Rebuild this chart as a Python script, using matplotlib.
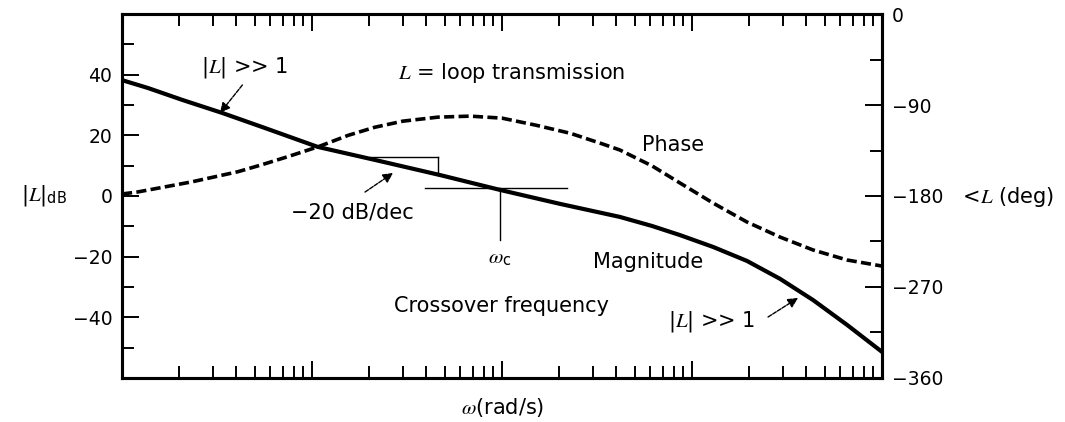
import numpy as np
import matplotlib.pyplot as plt
from matplotlib.ticker import LogLocator, MultipleLocator, NullFormatter

plt.rcParams["font.family"] = "DejaVu Sans"
plt.rcParams["mathtext.fontset"] = "custom"
plt.rcParams["mathtext.rm"] = "DejaVu Sans"
plt.rcParams["mathtext.sf"] = "DejaVu Sans"
plt.rcParams["mathtext.it"] = "STIXGeneral:italic"

# magnitude curve (dB)
w_mag = [1, 1.37, 2.07, 3.36, 5.66, 10.7, 21.4, 47.2, 97.7, 202, 417, 617, 865,
         1291, 1945, 2904, 4335, 6546, 10000]
mag_db = [38.2, 35.6, 31.7, 27.4, 22.4, 16.2, 11.9, 6.9, 2.0, -2.6, -6.9, -9.9, -12.9,
          -16.8, -21.4, -27.3, -34.3, -42.5, -51.4]

# phase curve (deg)
w_ph = [1, 1.21, 1.68, 2.33, 3.08, 4.07, 5.46, 7.48, 10.7, 15.5, 21.4, 30, 46, 68, 100,
        151, 229, 339, 417, 617, 865, 1291, 1945, 2904, 4335, 6546, 10000]
phase_deg = [-178, -176, -171, -166, -161, -156, -149, -141, -131.5, -120, -112, -106,
             -102, -101, -103, -110, -118, -128.6, -134.5, -150.3, -167.2, -187,
             -205.7, -220.6, -233.4, -243.3, -249.3]

db_ticks = [-40, -20, 0, 20, 40]
deg_ticks = [0, -90, -180, -270, -360]

fig = plt.figure(figsize=(10.65, 4.22), dpi=100)
ax = fig.add_axes([0.1146, 0.1043, 0.7136, 0.8625])
ax2 = ax.twinx()

ax.plot(w_mag, mag_db, color="black", lw=3.0, solid_joinstyle="round")
ax2.plot(w_ph, phase_deg, color="black", lw=2.6, linestyle=(0, (2.8, 1.2)))

ax.set_xscale("log")
ax.set_xlim(1, 1e4)
ax.set_ylim(-60, 60)
ax2.set_ylim(-360, 0)

ax.xaxis.set_major_locator(LogLocator(base=10, numticks=10))
ax.xaxis.set_minor_locator(LogLocator(base=10, subs=np.arange(2, 10), numticks=20))
ax.xaxis.set_major_formatter(NullFormatter())
ax.xaxis.set_minor_formatter(NullFormatter())
ax.set_yticks(db_ticks)
ax.yaxis.set_minor_locator(MultipleLocator(10))
ax2.set_yticks(deg_ticks)
ax2.yaxis.set_minor_locator(MultipleLocator(45))

for a in (ax, ax2):
    for s in a.spines.values():
        s.set_linewidth(2.2)
ax.tick_params(which="both", direction="in", top=True, right=False, width=1.4,
               labelsize=13.5, pad=7)
ax.tick_params(which="major", length=12)
ax.tick_params(which="minor", length=8.6)
ax2.tick_params(which="both", direction="in", width=1.4, labelsize=13.5, pad=7)
ax2.tick_params(which="major", length=12)
ax2.tick_params(which="minor", length=8.6)
ax.set_yticklabels([str(t).replace("-", "\u2212") for t in db_ticks])
ax2.set_yticklabels([str(t).replace("-", "\u2212") for t in deg_ticks])

# slope triangle and crossover marks
ax.plot([20.2, 46], [12.9, 12.9], color="black", lw=1)
ax.plot([46, 46], [12.9, 6.9], color="black", lw=1)
ax.plot([39.3, 220], [2.6, 2.6], color="black", lw=1)
ax.plot([97.6, 97.6], [2.6, -14.5], color="black", lw=1)

fs = 15
arrow = dict(arrowstyle="-|>", color="black", lw=1, linestyle=(0, (3, 1)),
             mutation_scale=15, shrinkA=0, shrinkB=0)
ax.text(4.44, 42.5, r"|$L$| >> 1", ha="center", va="center", fontsize=fs)
ax.annotate("", xy=(3.28, 27.4), xytext=(4.3, 36.6), arrowprops=arrow)
ax.text(112, 40.6, r"$L$ = loop transmission", ha="center", va="center", fontsize=fs)
ax.text(794, 16.8, "Phase", ha="center", va="center", fontsize=fs)
ax.text(16.4, -5.3, "\u221220 dB/dec", ha="center", va="center", fontsize=fs)
ax.annotate("", xy=(26.7, 7.6), xytext=(19.0, 1.3), arrowprops=arrow)
ax.text(97.6, -20.4, r"$\omega_{\mathrm{c}}$", ha="center", va="center", fontsize=fs)
ax.text(588, -21.8, "Magnitude", ha="center", va="center", fontsize=fs)
ax.text(98.8, -36.3, "Crossover frequency", ha="center", va="center", fontsize=fs)
ax.text(1274, -41.5, r"|$L$| >> 1", ha="center", va="center", fontsize=fs)
ax.annotate("", xy=(3614, -33.6), xytext=(2512, -39.9), arrowprops=arrow)

fig.text(0.041, 0.537, r"|$L$|$_{\mathrm{dB}}$", ha="center", va="center", fontsize=fs)
fig.text(0.945, 0.533, r"$<\!L$ (deg)", ha="center", va="center", fontsize=fs)
fig.text(0.472, 0.035, r"$\omega$(rad/s)", ha="center", va="center", fontsize=fs)

fig.savefig("out.png", dpi=100)
